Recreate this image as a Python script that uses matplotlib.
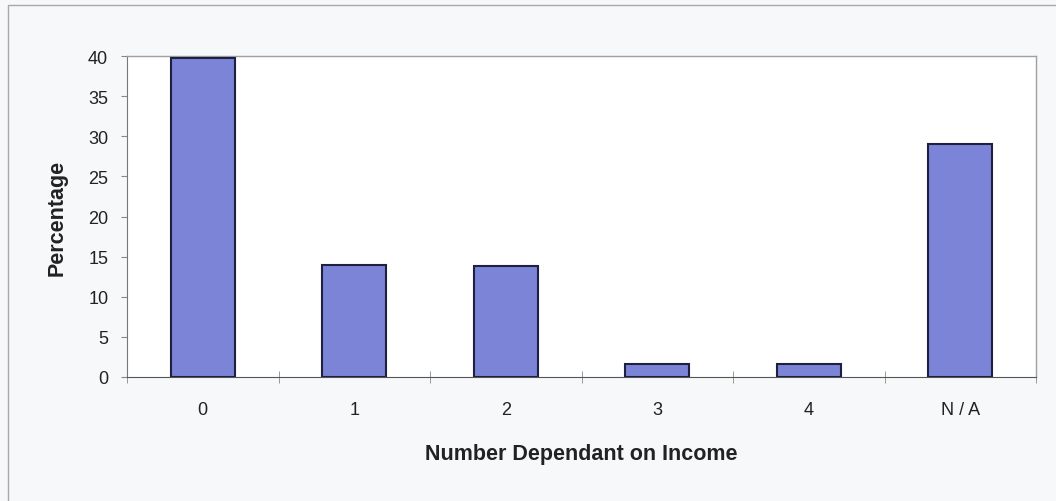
import matplotlib.pyplot as plt
import numpy as np
from matplotlib.patches import Rectangle

categories = ["0", "1", "2", "3", "4", "N / A"]
percentages = [39.8, 14.0, 13.8, 1.6, 1.6, 29.0]
y_ticks = [0, 5, 10, 15, 20, 25, 30, 35, 40]

plt.rcParams['font.family'] = ['Liberation Sans', 'DejaVu Sans']

fig = plt.figure(figsize=(10.56, 5.02), dpi=100, facecolor='#f6f8fa')
# outer chart frame, only its top and left edges fall inside the picture
fig.patches.append(Rectangle((8 / 1056, -0.05), 1.1, 1.05 - 6 / 502, transform=fig.transFigure,
                             fill=False, edgecolor='#a8a8a8', linewidth=1))

ax = fig.add_axes([127 / 1056, 1 - 378 / 502, (1036 - 127) / 1056, (378 - 57) / 502])
ax.set_facecolor('white')

x = np.arange(len(categories))
ax.bar(x, percentages, width=0.42, color='#7c84d8', edgecolor='#1e2040', linewidth=1.5, zorder=3)

ax.set_xlim(-0.5, len(categories) - 0.5)
ax.set_ylim(0, 40)
ax.set_yticks(y_ticks)
ax.tick_params(axis='y', direction='out', length=4, color='#888888', labelsize=13, labelcolor='#222222', pad=9.5)

# categories labelled at centers, ticks drawn between categories
ax.set_xticks(x)
ax.set_xticklabels(categories)
ax.tick_params(axis='x', length=0, labelsize=13, labelcolor='#222222', pad=17)
ax.set_xticks(np.arange(-0.5, len(categories)), minor=True)
ax.tick_params(axis='x', which='minor', direction='inout', length=8, color='#888888')

for side in ['top', 'right']:
    ax.spines[side].set_color('#a0a0a0')
    ax.spines[side].set_linewidth(1)
ax.spines['left'].set_color('#777777')
ax.spines['bottom'].set_color('#555555')

ax.set_ylabel('Percentage', fontsize=15.5, fontweight='bold', labelpad=15, color='#222222')
ax.set_xlabel('Number Dependant on Income', fontsize=15.5, fontweight='bold', labelpad=18, color='#222222')

fig.savefig('out.png', dpi=100, facecolor=fig.get_facecolor())
